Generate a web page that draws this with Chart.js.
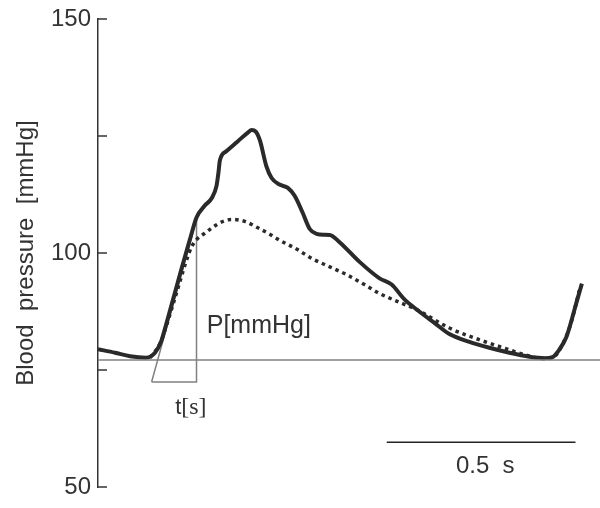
<!DOCTYPE html>
<html lang="en">
<head>
    <meta charset="UTF-8">
    <title>Blood pressure waveform</title>
    <style>
        body { margin: 0; background: #fff; }
    </style>
</head>
<body>
    <canvas id="bpChart" width="600" height="508"></canvas>
    <script src="https://cdn.jsdelivr.net/npm/chart.js"></script>
    <script>
// time in seconds, pressure in mmHg
const measuredT = [0.000, 0.045, 0.085, 0.127, 0.151, 0.167, 0.172, 0.196, 0.222, 0.243, 0.261, 0.283, 0.302, 0.314, 0.319, 0.323, 0.340, 0.370, 0.397, 0.407, 0.418, 0.429, 0.446, 0.460, 0.481, 0.503, 0.521, 0.542, 0.561, 0.579, 0.598, 0.614, 0.640, 0.693, 0.746, 0.778, 0.812, 0.847, 0.892, 0.931, 0.984, 1.037, 1.090, 1.143, 1.183, 1.204, 1.222, 1.241, 1.254, 1.267, 1.282];
const measuredP = [79.43, 78.69, 77.95, 77.64, 78.69, 81.01, 82.28, 89.24, 96.84, 102.74, 107.59, 110.13, 111.81, 114.35, 117.09, 119.83, 121.73, 123.84, 125.74, 126.27, 125.95, 124.05, 118.57, 116.03, 114.62, 113.92, 112.23, 108.65, 105.13, 104.07, 103.90, 103.86, 102.32, 98.10, 94.58, 93.25, 90.08, 87.76, 85.02, 82.70, 81.01, 79.75, 78.69, 77.85, 77.53, 77.74, 79.32, 82.07, 85.44, 89.24, 93.46];

const estimatedT = [0.138, 0.164, 0.180, 0.198, 0.217, 0.233, 0.249, 0.262, 0.283, 0.304, 0.328, 0.354, 0.389, 0.421, 0.455, 0.481, 0.526, 0.569, 0.614, 0.659, 0.706, 0.746, 0.799, 0.844, 0.931, 1.019, 1.090, 1.130, 1.161, 1.190, 1.212, 1.230, 1.249, 1.265, 1.275];
const estimatedP = [77.64, 80.59, 84.18, 88.82, 93.88, 98.10, 101.48, 102.95, 104.22, 105.49, 106.65, 107.17, 106.75, 105.49, 104.01, 102.74, 100.84, 98.73, 97.05, 95.36, 93.25, 91.35, 89.45, 87.91, 83.97, 81.22, 79.32, 78.27, 77.64, 77.43, 78.06, 80.38, 83.97, 88.61, 91.99];

// diastolic reference level and the slope triangle
const baselineP = 77.15;
const triangleT = [0.142, 0.261, 0.261, 0.142];
const triangleP = [72.43, 72.43, 107.2, 72.43];

// 0.5 s scale bar
const scaleBarT = [0.765, 1.265];
const scaleBarP = 59.56;

const yTicks = [50, 75, 100, 125, 150];
const yLabels = ['50', '', '100', '', '150'];

const toPoints = (xs, ys) => xs.map((x, i) => ({ x: x, y: Array.isArray(ys) ? ys[i] : ys }));

const sans = "'Liberation Sans', Arial, sans-serif";
const serif = "'Liberation Serif', 'Times New Roman', serif";
const ink = '#333';
const grey = '#808080';

// inward tick marks + text annotations
const decorations = {
    id: 'decorations',
    afterDatasetsDraw(chart) {
        const ctx = chart.ctx;
        const xs = chart.scales.x;
        const ys = chart.scales.y;
        const left = chart.chartArea.left;

        ctx.save();
        ctx.strokeStyle = ink;
        ctx.lineWidth = 1.5;
        yTicks.forEach(v => {
            const py = ys.getPixelForValue(v);
            ctx.beginPath();
            ctx.moveTo(left, py);
            ctx.lineTo(left + 9, py);
            ctx.stroke();
        });

        ctx.fillStyle = ink;
        ctx.textBaseline = 'middle';

        ctx.font = '25px ' + sans;
        ctx.textAlign = 'left';
        ctx.fillText('P[mmHg]', xs.getPixelForValue(0.288), ys.getPixelForValue(84.4));

        // t in sans, [s] in serif
        const tx = xs.getPixelForValue(0.246);
        const ty = ys.getPixelForValue(66.98);
        ctx.font = '22px ' + sans;
        const wT = ctx.measureText('t').width;
        ctx.font = '24px ' + serif;
        const wS = ctx.measureText('[s]').width;
        const x0 = tx - (wT + wS) / 2;
        ctx.font = '22px ' + sans;
        ctx.fillText('t', x0, ty);
        ctx.font = '24px ' + serif;
        ctx.fillText('[s]', x0 + wT, ty);

        ctx.font = '24px ' + sans;
        ctx.textAlign = 'center';
        ctx.fillText('0.5  s', xs.getPixelForValue(1.026), ys.getPixelForValue(54.43));
        ctx.restore();
    }
};

new Chart(document.getElementById('bpChart'), {
    type: 'line',
    data: {
        datasets: [
            {
                data: toPoints([0, 1.33], baselineP),
                borderColor: grey, borderWidth: 1.5, pointRadius: 0
            },
            {
                data: toPoints(estimatedT, estimatedP),
                borderColor: '#2a2a2a', borderWidth: 3.5, borderDash: [3.5, 4],
                cubicInterpolationMode: 'monotone', pointRadius: 0
            },
            {
                data: toPoints(measuredT, measuredP),
                borderColor: '#2a2a2a', borderWidth: 4,
                cubicInterpolationMode: 'monotone', pointRadius: 0
            },
            {
                data: toPoints(triangleT, triangleP),
                borderColor: grey, borderWidth: 1.5, pointRadius: 0
            },
            {
                data: toPoints(scaleBarT, scaleBarP),
                borderColor: '#222', borderWidth: 1.5, pointRadius: 0
            }
        ]
    },
    options: {
        responsive: false,
        animation: false,
        layout: { padding: { top: 14, right: 0, bottom: 21, left: 0 } },
        plugins: {
            legend: { display: false },
            tooltip: { enabled: false }
        },
        scales: {
            x: {
                type: 'linear',
                min: 0,
                max: 1.33,
                display: false
            },
            y: {
                min: 50,
                max: 150,
                afterFit(scale) { scale.width = 98; },
                afterBuildTicks(scale) { scale.ticks = yTicks.map(v => ({ value: v })); },
                grid: { display: false, drawTicks: false },
                border: { display: true, color: ink, width: 1.5 },
                ticks: {
                    padding: 7,
                    color: ink,
                    font: { family: sans, size: 24, lineHeight: 1 },
                    callback: (v) => yLabels[yTicks.indexOf(v)]
                },
                title: {
                    display: true,
                    text: 'Blood  pressure  [mmHg]',
                    color: ink,
                    font: { family: sans, size: 24 },
                    padding: { top: 12, bottom: 0 }
                }
            }
        }
    },
    plugins: [decorations]
});
    </script>
</body>
</html>
